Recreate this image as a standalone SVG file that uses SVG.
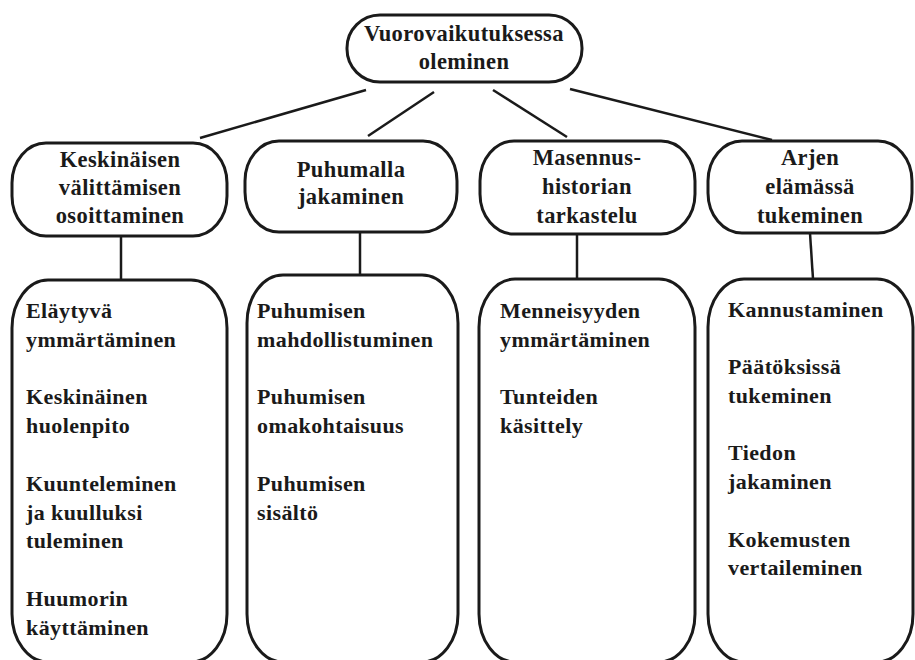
<svg xmlns="http://www.w3.org/2000/svg" width="915" height="660" viewBox="0 0 915 660">
  <style>
    .box { fill: #ffffff; stroke: #1a1a1a; stroke-width: 3; }
    .link { stroke: #1a1a1a; stroke-width: 2.5; fill: none; stroke-linecap: butt; }
    text { font-family: 'Liberation Serif', 'DejaVu Serif', serif; font-weight: bold; fill: #1a1a1a; }
    .head { font-size: 22.5px; text-anchor: middle; letter-spacing: 0.4px; }
    .item { font-size: 22px; letter-spacing: 0.4px; }
  </style>
  <rect width="915" height="660" fill="#ffffff"/>

  <!-- connectors -->
  <g id="connectors">
    <line class="link" x1="366" y1="90" x2="200" y2="138"/>
    <line class="link" x1="434" y1="92" x2="368" y2="136"/>
    <line class="link" x1="493" y1="90" x2="567" y2="137"/>
    <line class="link" x1="570" y1="89" x2="772" y2="140"/>
    <line class="link" x1="121" y1="236" x2="121" y2="280"/>
    <line class="link" x1="360" y1="232" x2="360" y2="275"/>
    <line class="link" x1="577" y1="234" x2="577" y2="279"/>
    <line class="link" x1="810" y1="233" x2="813" y2="279"/>
  </g>

  <!-- root -->
  <g id="root">
    <rect class="box" x="347" y="15" width="235" height="67" rx="33" ry="33"/>
    <text class="head" x="464" y="41">Vuorovaikutuksessa</text>
    <text class="head" x="464" y="69">oleminen</text>
  </g>

  <!-- themes -->
  <g id="theme-care">
    <rect class="box" x="12" y="143" width="215" height="93" rx="34" ry="40"/>
    <text class="head" x="120" y="167">Keskinäisen</text>
    <text class="head" x="120" y="195">välittämisen</text>
    <text class="head" x="120" y="223">osoittaminen</text>
  </g>
  <g id="theme-talk">
    <rect class="box" x="245" y="141" width="212" height="91" rx="34" ry="40"/>
    <text class="head" x="351" y="177">Puhumalla</text>
    <text class="head" x="351" y="204">jakaminen</text>
  </g>
  <g id="theme-history">
    <rect class="box" x="480" y="141" width="215" height="93" rx="34" ry="40"/>
    <text class="head" x="587" y="165">Masennus-</text>
    <text class="head" x="587" y="194">historian</text>
    <text class="head" x="587" y="223">tarkastelu</text>
  </g>
  <g id="theme-daily">
    <rect class="box" x="708" y="141" width="204" height="92" rx="34" ry="40"/>
    <text class="head" x="810" y="165">Arjen</text>
    <text class="head" x="810" y="194">elämässä</text>
    <text class="head" x="810" y="223">tukeminen</text>
  </g>

  <!-- sub-theme lists -->
  <g id="list-care">
    <rect class="box" x="12" y="280" width="215" height="382" rx="36" ry="48"/>
    <text class="item" x="26" y="318">Eläytyvä</text>
    <text class="item" x="26" y="347">ymmärtäminen</text>
    <text class="item" x="26" y="404">Keskinäinen</text>
    <text class="item" x="26" y="433">huolenpito</text>
    <text class="item" x="26" y="491">Kuunteleminen</text>
    <text class="item" x="26" y="520">ja kuulluksi</text>
    <text class="item" x="26" y="548">tuleminen</text>
    <text class="item" x="26" y="606">Huumorin</text>
    <text class="item" x="26" y="635">käyttäminen</text>
  </g>
  <g id="list-talk">
    <rect class="box" x="247" y="275" width="211" height="387" rx="36" ry="48"/>
    <text class="item" x="257" y="318">Puhumisen</text>
    <text class="item" x="257" y="347">mahdollistuminen</text>
    <text class="item" x="257" y="404">Puhumisen</text>
    <text class="item" x="257" y="433">omakohtaisuus</text>
    <text class="item" x="257" y="491">Puhumisen</text>
    <text class="item" x="257" y="520">sisältö</text>
  </g>
  <g id="list-history">
    <rect class="box" x="479" y="279" width="216" height="383" rx="36" ry="48"/>
    <text class="item" x="500" y="318">Menneisyyden</text>
    <text class="item" x="500" y="347">ymmärtäminen</text>
    <text class="item" x="500" y="404">Tunteiden</text>
    <text class="item" x="500" y="433">käsittely</text>
  </g>
  <g id="list-daily">
    <rect class="box" x="708" y="279" width="205" height="383" rx="36" ry="48"/>
    <text class="item" x="728" y="317">Kannustaminen</text>
    <text class="item" x="728" y="374">Päätöksissä</text>
    <text class="item" x="728" y="403">tukeminen</text>
    <text class="item" x="728" y="460">Tiedon</text>
    <text class="item" x="728" y="489">jakaminen</text>
    <text class="item" x="728" y="547">Kokemusten</text>
    <text class="item" x="728" y="575">vertaileminen</text>
  </g>
</svg>
